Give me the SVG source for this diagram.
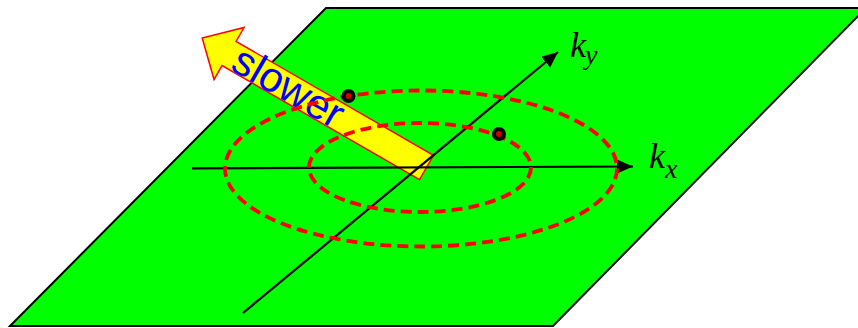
<svg xmlns="http://www.w3.org/2000/svg" width="858" height="328" viewBox="0 0 858 328">
<defs>
<style>
.plane{fill:#00FF00;stroke:#000;stroke-width:2}
.axis{stroke:#000;stroke-width:2.2;fill:none}
.ell{fill:none;stroke:#FF0000;stroke-width:3.8;stroke-dasharray:11 6}
.dot{fill:#CC0000;stroke:#000;stroke-width:4}
.lbl{font-family:"Liberation Serif","Times New Roman",serif;font-style:italic;fill:#000}
.slow{font-family:"Liberation Sans",Arial,sans-serif;fill:#0000FF}
</style>
<marker id="ah" markerUnits="userSpaceOnUse" markerWidth="18" markerHeight="16" refX="16" refY="7" orient="auto">
<path d="M0,0 L16,7 L0,14 Z" fill="#000"/>
</marker>
</defs>
<g id="plane">
<polygon class="plane" points="326,8 866,8 553,326 10,326"/>
</g>
<g id="slower-arrow">
<polygon transform="translate(426.5,167.5) rotate(210)" points="0,-14 228,-14 228,-30 259,0 228,30 228,14 0,14" fill="#FFFF00" stroke="#FF0000" stroke-width="1.5"/>
<text class="slow" transform="translate(288,88) rotate(30)" x="0" y="13" font-size="42" text-anchor="middle">slower</text>
</g>
<g id="connectors">
<line class="axis" x1="192" y1="168.3" x2="633" y2="166.5" marker-end="url(#ah)"/>
<line class="axis" x1="243" y1="313" x2="558" y2="52" marker-end="url(#ah)"/>
</g>
<g id="contours">
<ellipse class="ell" cx="421" cy="168.5" rx="196" ry="78"/>
<ellipse class="ell" cx="420" cy="167.5" rx="111" ry="44.5"/>
</g>
<g id="points">
<circle class="dot" cx="348.5" cy="96" r="5"/>
<circle class="dot" cx="499" cy="134" r="5"/>
</g>
<g id="label-kx">
<text class="lbl" x="649" y="168" font-size="36">k</text>
<text class="lbl" x="665" y="178" font-size="28">x</text>
</g>
<g id="label-ky">
<text class="lbl" x="570" y="57" font-size="36">k</text>
<text class="lbl" x="585" y="64" font-size="28">y</text>
</g>
</svg>
